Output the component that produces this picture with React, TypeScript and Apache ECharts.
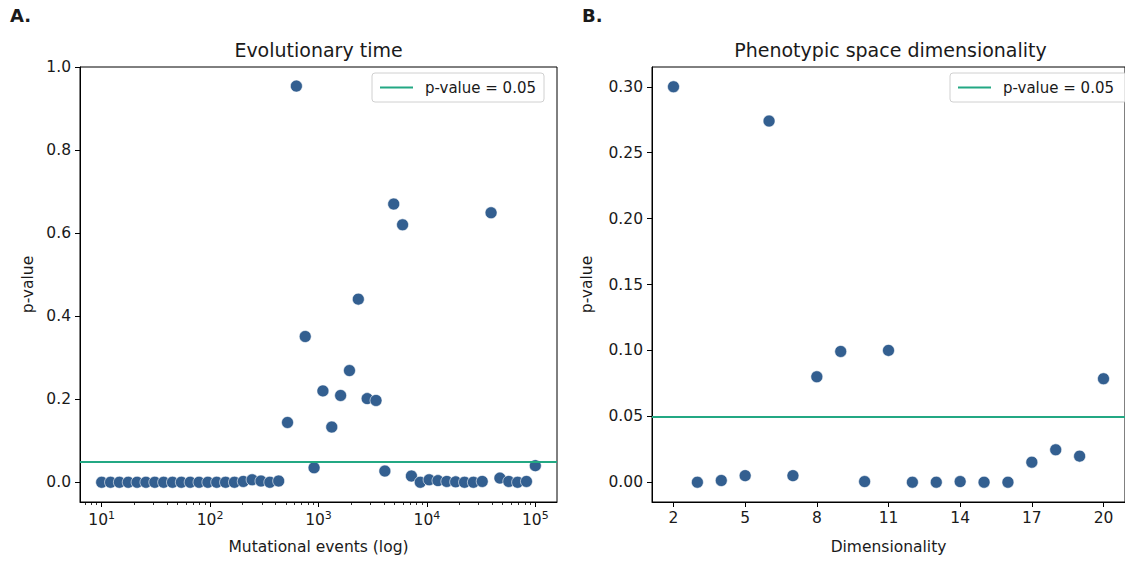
import React, { useEffect, useRef } from "react";
import * as echarts from "echarts";

// Panel A: evolutionary time (log-spaced mutational events)
const eventsX = [
  10, 12.07, 14.56, 17.58, 21.21, 25.6, 30.89, 37.28, 44.99, 54.29,
  65.51, 79.06, 95.41, 115.1, 138.9, 167.7, 202.3, 244.2, 294.7, 355.6,
  429.1, 517.9, 625.1, 754.3, 910.3, 1098.5, 1325.6, 1599.7, 1930.7, 2329.9,
  2811.8, 3393.2, 4094.9, 4941.7, 5963.6, 7196.9, 8685.1, 10481, 12649, 15264,
  18421, 22230, 26827, 32375, 39069, 47149, 56899, 68665, 82864, 100000,
];
const eventsP = [
  0, 0, 0, 0, 0, 0, 0, 0, 0, 0,
  0, 0, 0, 0, 0, 0, 0.002, 0.006, 0.003, 0,
  0.003, 0.144, 0.954, 0.351, 0.035, 0.22, 0.133, 0.209, 0.269, 0.441,
  0.2015, 0.197, 0.027, 0.67, 0.62, 0.015, 0, 0.006, 0.004, 0.002,
  0.001, 0, 0, 0.002, 0.649, 0.01, 0.002, 0, 0.002, 0.04,
];

// Panel B: phenotypic space dimensionality
const dims = [2, 3, 4, 5, 6, 7, 8, 9, 10, 11, 12, 13, 14, 15, 16, 17, 18, 19, 20];
const dimsP = [
  0.3, 0, 0.0013, 0.005, 0.274, 0.005, 0.08, 0.0992, 0.0005, 0.1,
  0, 0, 0.0005, 0, 0, 0.0152, 0.0246, 0.0198, 0.0785,
];

const threshold = 0.05;
const thresholdName = "p-value = 0.05";

const logMajorTicks = [10, 100, 1000, 10000, 100000];
const logMinorTicks = [
  7, 8, 9, 20, 30, 40, 50, 60, 70, 80, 90, 200, 300, 400, 500, 600, 700, 800, 900,
  2000, 3000, 4000, 5000, 6000, 7000, 8000, 9000,
  20000, 30000, 40000, 50000, 60000, 70000, 80000, 90000,
];
const yTicksA = [0, 0.2, 0.4, 0.6, 0.8, 1.0];
const yTicksB = [0, 0.05, 0.1, 0.15, 0.2, 0.25, 0.3];
const xTicksB = [2, 5, 8, 11, 14, 17, 20];

const FONT = "DejaVu Sans";
const TXT = "#1a1a1a";
const DOT = "#335f90";
const GREEN = "#23a883";
const FS = 15.5;

export default function App() {
  const ref = useRef<HTMLDivElement>(null);
  useEffect(() => {
    if (!ref.current) return;
    const chart = echarts.init(ref.current, null, { renderer: "svg" });
    const axisLine = { show: true, onZero: false, lineStyle: { color: "#000", width: 1 } };
    const tickMajor = { show: true, length: 5, lineStyle: { color: "#000", width: 1 } };
    const labelStyle = { color: TXT, fontSize: FS, fontFamily: FONT };
    const nameStyle = { color: TXT, fontSize: FS, fontFamily: FONT };
    const scatterStyle = {
      color: DOT,
      opacity: 1,
      borderColor: "rgba(255,255,255,0.6)",
      borderWidth: 1,
    };
    const legendBase = {
      orient: "vertical" as const,
      top: 73,
      padding: [7, 8, 7, 8],
      itemWidth: 33,
      itemHeight: 2,
      icon: "rect",
      borderColor: "#d0d0d0",
      borderWidth: 1,
      borderRadius: 3,
      backgroundColor: "rgba(255,255,255,0.8)",
      textStyle: { color: TXT, fontSize: 15, fontFamily: FONT, padding: [0, 0, 0, 7] },
    };
    const titleStyle = { color: TXT, fontSize: 19, fontWeight: "normal", fontFamily: FONT };
    chart.setOption({
      animation: false,
      backgroundColor: "#fff",
      textStyle: { fontFamily: FONT },
      title: [
        { text: "Evolutionary time", left: 318.5, top: 40, textAlign: "center", padding: 0, textStyle: titleStyle },
        { text: "Phenotypic space dimensionality", left: 890.5, top: 40, textAlign: "center", padding: 0, textStyle: titleStyle },
        { text: "A.", left: 10, top: 6, padding: 0,
          textStyle: { color: TXT, fontSize: 18, fontWeight: "bold", fontFamily: FONT } },
        { text: "B.", left: 582, top: 6, padding: 0,
          textStyle: { color: TXT, fontSize: 18, fontWeight: "bold", fontFamily: FONT } },
      ],
      legend: [
        { ...legendBase, left: 372, data: [{ name: thresholdName }] },
        { ...legendBase, left: 950, data: [{ name: thresholdName + " " }] },
      ],
      grid: [
        { left: 80, top: 67, width: 477, height: 435, show: true, borderColor: "#000", borderWidth: 1, backgroundColor: "transparent" },
        { left: 652, top: 67, width: 477, height: 435, show: true, borderColor: "#000", borderWidth: 1, backgroundColor: "transparent" },
      ],
      xAxis: [
        {
          type: "log", logBase: 10, gridIndex: 0, min: 6.31, max: 158489, position: "bottom",
          name: "Mutational events (log)", nameLocation: "middle", nameGap: 37,
          nameTextStyle: nameStyle,
          axisLine, axisTick: { ...tickMajor, customValues: logMajorTicks },
          axisLabel: {
            customValues: logMajorTicks,
            margin: 8,
            formatter: (v: number) => `{b|10}{s|${Math.round(Math.log10(v))}}`,
            rich: {
              b: { ...labelStyle },
              s: { ...labelStyle, fontSize: 11, padding: [0, 0, 8, 0] },
            },
          },
          splitLine: { show: false },
        },
        {
          type: "log", logBase: 10, gridIndex: 0, min: 6.31, max: 158489, position: "bottom",
          axisLine: { show: false, onZero: false },
          axisTick: { show: true, length: 3, customValues: logMinorTicks, lineStyle: { color: "#000", width: 0.8 } },
          axisLabel: { show: false },
          splitLine: { show: false },
        },
        {
          type: "value", gridIndex: 1, min: 1.1, max: 20.9, position: "bottom",
          name: "Dimensionality", nameLocation: "middle", nameGap: 37,
          nameTextStyle: nameStyle,
          axisLine, axisTick: { ...tickMajor, customValues: xTicksB },
          axisLabel: { ...labelStyle, customValues: xTicksB, margin: 8 },
          splitLine: { show: false },
        },
      ],
      yAxis: [
        {
          type: "value", gridIndex: 0, min: -0.0475, max: 1.0, position: "left",
          name: "p-value", nameLocation: "middle", nameGap: 44,
          nameTextStyle: nameStyle,
          axisLine, axisTick: { ...tickMajor, customValues: yTicksA },
          axisLabel: { ...labelStyle, customValues: yTicksA, margin: 9, formatter: (v: number) => v.toFixed(1) },
          splitLine: { show: false },
        },
        {
          type: "value", gridIndex: 1, min: -0.015, max: 0.315, position: "left",
          name: "p-value", nameLocation: "middle", nameGap: 57,
          nameTextStyle: nameStyle,
          axisLine, axisTick: { ...tickMajor, customValues: yTicksB },
          axisLabel: { ...labelStyle, customValues: yTicksB, margin: 9, formatter: (v: number) => v.toFixed(2) },
          splitLine: { show: false },
        },
      ],
      series: [
        {
          type: "line", name: thresholdName, xAxisIndex: 0, yAxisIndex: 0,
          data: [], itemStyle: { color: GREEN }, lineStyle: { color: GREEN, width: 2 },
          markLine: { silent: true, symbol: "none", label: { show: false },
            lineStyle: { color: GREEN, width: 2, type: "solid" }, data: [{ yAxis: threshold }] },
        },
        {
          type: "scatter", xAxisIndex: 0, yAxisIndex: 0, symbolSize: 12,
          data: eventsX.map((x, i) => [x, eventsP[i]]), itemStyle: scatterStyle, z: 3,
        },
        {
          type: "line", name: thresholdName + " ", xAxisIndex: 2, yAxisIndex: 1,
          data: [], itemStyle: { color: GREEN }, lineStyle: { color: GREEN, width: 2 },
          markLine: { silent: true, symbol: "none", label: { show: false },
            lineStyle: { color: GREEN, width: 2, type: "solid" }, data: [{ yAxis: threshold }] },
        },
        {
          type: "scatter", xAxisIndex: 2, yAxisIndex: 1, symbolSize: 12,
          data: dims.map((x, i) => [x, dimsP[i]]), itemStyle: scatterStyle, z: 3,
        },
      ],
    });
    return () => chart.dispose();
  }, []);
  return (
    <div
      ref={ref}
      style={{ position: "fixed", left: 0, top: 0, width: 1125, height: 563, background: "#fff" }}
    />
  );
}
